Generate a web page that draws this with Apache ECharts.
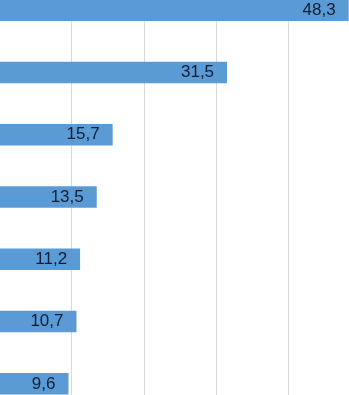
<!DOCTYPE html>
<html>
<head>
<meta charset="utf-8">
<script src="https://cdn.jsdelivr.net/npm/echarts@6/dist/echarts.min.js"></script>
<style>
html,body{margin:0;padding:0;background:#fff;overflow:hidden;width:349px;height:395px;position:relative;}
#chart{position:absolute;left:-1px;top:-21px;width:362px;height:436px;}
</style>
</head>
<body>
<div id="chart"></div>
<script>
var categories = ['A', 'B', 'C', 'D', 'E', 'F', 'G'];
var values = [48.3, 31.5, 15.7, 13.5, 11.2, 10.7, 9.6];
var xMin = 0;
var xMax = 50;
var xInterval = 10;

var chart = echarts.init(document.getElementById('chart'), null, {renderer: 'canvas'});
chart.setOption({
  animation: false,
  grid: {left: 0, right: 0, top: 0, bottom: 0, containLabel: false},
  xAxis: {
    type: 'value', min: xMin, max: xMax, interval: xInterval,
    axisLine: {show: false}, axisTick: {show: false}, axisLabel: {show: false},
    splitLine: {show: true, lineStyle: {color: '#d9d9d9', width: 1}}
  },
  yAxis: {
    type: 'category', data: categories, inverse: true,
    axisLine: {show: false}, axisTick: {show: false}, axisLabel: {show: false},
    splitLine: {show: false}
  },
  series: [{
    type: 'bar',
    data: values,
    barWidth: 21.5,
    itemStyle: {color: '#5b9bd5'},
    label: {
      show: true, position: 'insideRight', distance: 13,
      color: '#0f1d33', fontFamily: 'Liberation Sans, Arial, sans-serif', fontSize: 17,
      formatter: function (p) { return String(p.value).replace('.', ','); }
    }
  }]
});
</script>
</body>
</html>
